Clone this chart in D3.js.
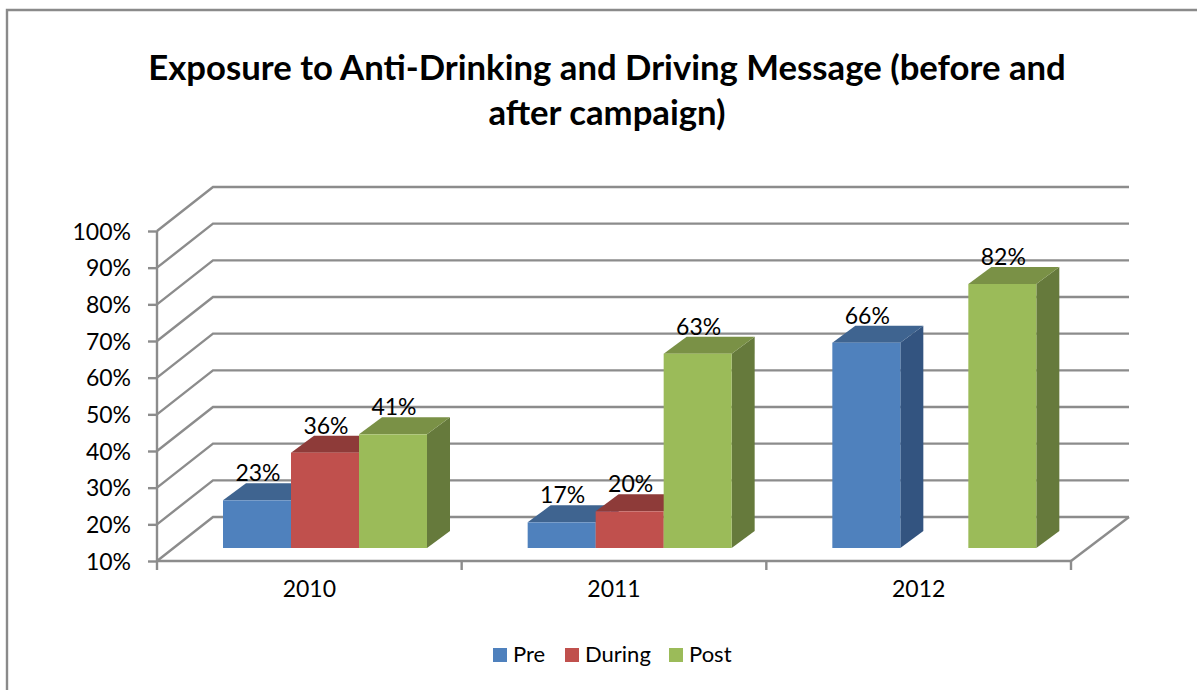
<!DOCTYPE html>
<html><head><meta charset="utf-8">
<script src="https://cdn.jsdelivr.net/npm/d3@7"></script>
<style>html,body{margin:0;padding:0;background:#fff}svg{display:block}text{font-family:Lato,"Noto Sans",sans-serif;fill:#000}</style>
</head><body><svg id="c" width="1197" height="690"></svg>
<script>
const titleLines = ["Exposure to Anti-Drinking and Driving Message (before and", "after campaign)"];
const categories = ["2010", "2011", "2012"];
const seriesNames = ["Pre", "During", "Post"];
const pre = [23, 17, 66];
const during = [36, 20, null];
const post = [41, 63, 82];
const yTicks = [10, 20, 30, 40, 50, 60, 70, 80, 90, 100];
const frontColors = ["#4f81bd", "#c0504d", "#9bbb59"];
const topColors = ["#3f6490", "#8e3b39", "#7a9146"];
const sideColors = ["#335480", "#7d3432", "#667a3c"];

const svg = d3.select("#c");
const grid = "#8c8c8c";
const y = d3.scaleLinear().domain([10, 100]).range([561, 231]);
const x = d3.scaleBand().domain(categories).range([157, 1071]);
const inner = d3.scaleBand().domain(seriesNames).range([66, 270]);
const wallDx = 56, wallDy = -44, barDx = 23, barDy = -17, floorLift = 13;
const lw = 2.4;

// frame: only the top and left edges are visible
svg.append("polyline").attr("points", "7,690 7,10 1197,10")
  .attr("fill", "none").attr("stroke", "#8a8a8a").attr("stroke-width", 2.4);

// walls
const g = svg.append("g").attr("fill", "none").attr("stroke", grid).attr("stroke-width", lw);
yTicks.forEach(t => {
  g.append("polyline").attr("points", [[x.range()[0], y(t)], [x.range()[0] + wallDx, y(t) + wallDy], [1129, y(t) + wallDy]].join(" "));
});
// floor
g.append("polyline").attr("points", [[x.range()[1], y(10)], [1129, y(10) + wallDy]].join(" "));
g.append("line").attr("x1", 157).attr("x2", 1071).attr("y1", y(10)).attr("y2", y(10));
g.append("line").attr("x1", 157).attr("x2", 157).attr("y1", y(100)).attr("y2", y(10));

// axes (ticks and labels through d3 axes)
const yAxis = svg.append("g").attr("transform", "translate(157,0)")
  .call(d3.axisLeft(y).tickValues(yTicks).tickFormat(d => d + "%").tickSize(9).tickPadding(17));
const xAxis = svg.append("g").attr("transform", `translate(0,${y(10)})`)
  .call(d3.axisBottom(x).tickSize(0).tickPadding(20));
yAxis.select(".domain").remove(); xAxis.select(".domain").remove();
yAxis.selectAll("line").attr("stroke", grid).attr("stroke-width", lw);
[...x.domain().map(d => x(d)), x.range()[1]].forEach(px =>
  svg.append("line").attr("x1", px).attr("x2", px).attr("y1", y(10)).attr("y2", y(10) + 9).attr("stroke", grid).attr("stroke-width", lw));
yAxis.selectAll("text").style("font-size", "23px").attr("dy", "0.36em");
xAxis.selectAll("text").style("font-size", "23px");

// bars
const values = [pre, during, post];
const barW = inner.bandwidth();
const baseY = y(10) - floorLift;
const h = v => (v - 10) * (y(10) - y(20)) / 10;
categories.forEach((c, ci) => {
  seriesNames.forEach((s, si) => {
    const v = values[si][ci];
    if (v == null) return;
    const x0 = x(c) + inner(s), x1 = x0 + barW, top = baseY - h(v);
    svg.append("polygon").attr("fill", sideColors[si]).attr("points",
      [[x1, baseY], [x1 + barDx, baseY + barDy], [x1 + barDx, top + barDy], [x1, top]].join(" "));
    svg.append("polygon").attr("fill", topColors[si]).attr("points",
      [[x0, top], [x0 + barDx, top + barDy], [x1 + barDx, top + barDy], [x1, top]].join(" "));
    svg.append("rect").attr("x", x0).attr("y", top).attr("width", barW).attr("height", baseY - top).attr("fill", frontColors[si]);
  });
});
categories.forEach((c, ci) => {
  seriesNames.forEach((s, si) => {
    const v = values[si][ci];
    if (v == null) return;
    svg.append("text").attr("x", x(c) + inner(s) + barW / 2 + 1).attr("y", baseY - h(v) - 19)
      .attr("text-anchor", "middle").style("font-size", "23px").text(v + "%");
  });
});

// title
titleLines.forEach((t, i) => svg.append("text").attr("x", 607).attr("y", 80 + i * 45)
  .attr("text-anchor", "middle").style("font-size", "34.7px").style("font-weight", 700).text(t));

// legend
const legendX = [493, 565, 669], legendY = 648;
seriesNames.forEach((s, i) => {
  svg.append("rect").attr("x", legendX[i]).attr("y", legendY).attr("width", 14).attr("height", 14).attr("fill", frontColors[i]);
  svg.append("text").attr("x", legendX[i] + 20).attr("y", legendY + 14).style("font-size", "22px").text(s);
});
</script></body></html>
